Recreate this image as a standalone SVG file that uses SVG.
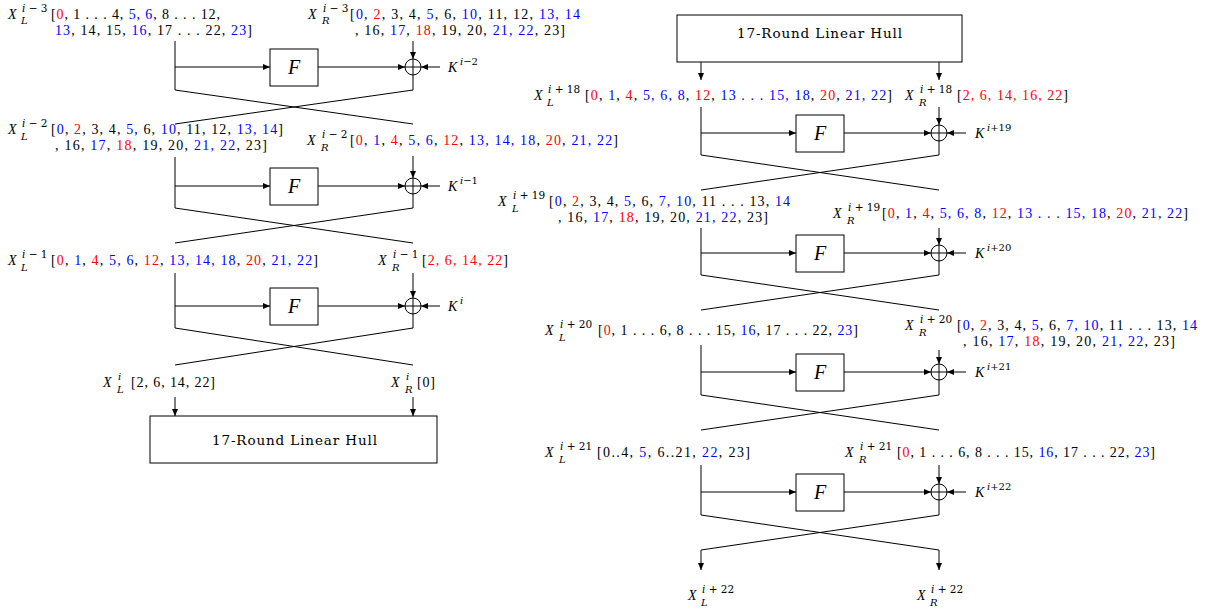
<svg xmlns="http://www.w3.org/2000/svg" width="1210" height="611" viewBox="0 0 1210 611">
<style>
.t{font-family:"Liberation Serif","Times New Roman",serif;font-size:14px;fill:#000}
.it{font-style:italic}
.s{font-family:"DejaVu Serif",serif;font-size:10px}
.u{font-family:"DejaVu Serif",serif;font-size:10.5px;white-space:pre}
.r{fill:#ff0000}
.b{fill:#0000ff}
.ln{stroke:#000;stroke-width:1;fill:none}
.ar{marker-end:url(#ah)}
.box{fill:#fff;stroke:#000;stroke-width:1}
.fx{font-family:"Liberation Serif","Times New Roman",serif;font-size:20px;font-style:italic;text-anchor:middle}
.hb{font-family:"DejaVu Serif",serif;font-size:13.5px}
</style>
<defs>
<marker id="ah" markerWidth="8" markerHeight="6" refX="7" refY="3" orient="auto" markerUnits="userSpaceOnUse">
<path d="M0,0 L7,3 L0,6 z" fill="#000"/>
</marker>
<g id="xor"><circle cx="0" cy="0" r="8" fill="#fff" stroke="#000"/><path d="M-8,0 H8 M0,-8 V8" stroke="#000"/></g>
</defs>

<g id="connectors">
<path class="ln" d="M175,41 V90 L413,124"/>
<path class="ln" d="M413,75 V90 L175,124"/>
<path class="ln ar" d="M175,67 H270"/>
<path class="ln ar" d="M318,67 H405"/>
<path class="ln ar" d="M440,67 H421"/>
<path class="ln ar" d="M413,41 V59"/>

<path class="ln" d="M175,157 V208 L413,243"/>
<path class="ln" d="M413,194 V208 L175,243"/>
<path class="ln ar" d="M175,186 H270"/>
<path class="ln ar" d="M318,186 H405"/>
<path class="ln ar" d="M440,186 H421"/>
<path class="ln ar" d="M413,156 V178"/>

<path class="ln" d="M175,273 V328 L413,365"/>
<path class="ln" d="M413,314 V328 L175,365"/>
<path class="ln ar" d="M175,306 H270"/>
<path class="ln ar" d="M318,306 H405"/>
<path class="ln ar" d="M440,306 H421"/>
<path class="ln ar" d="M413,273 V298"/>

<path class="ln ar" d="M175,397 V416"/>
<path class="ln ar" d="M413,397 V416"/>

<path class="ln ar" d="M701,62 V80"/>
<path class="ln ar" d="M939,62 V80"/>

<path class="ln" d="M701,107 V155 L939,190"/>
<path class="ln" d="M939,141 V155 L701,190"/>
<path class="ln ar" d="M701,133 H796"/>
<path class="ln ar" d="M844,133 H931"/>
<path class="ln ar" d="M966,133 H947"/>
<path class="ln ar" d="M939,107 V125"/>

<path class="ln" d="M701,228 V275 L939,310"/>
<path class="ln" d="M939,261 V275 L701,310"/>
<path class="ln ar" d="M701,253 H796"/>
<path class="ln ar" d="M844,253 H931"/>
<path class="ln ar" d="M966,253 H947"/>
<path class="ln ar" d="M939,228 V245"/>

<path class="ln" d="M701,345 V395 L939,430"/>
<path class="ln" d="M939,380 V395 L701,430"/>
<path class="ln ar" d="M701,372 H796"/>
<path class="ln ar" d="M844,372 H931"/>
<path class="ln ar" d="M966,372 H947"/>
<path class="ln ar" d="M939,350 V364"/>

<path class="ln ar" d="M701,465 V515 L939,550 V570"/>
<path class="ln ar" d="M939,500 V515 L701,550 V570"/>
<path class="ln ar" d="M701,492 H796"/>
<path class="ln ar" d="M844,492 H931"/>
<path class="ln ar" d="M966,492 H947"/>
<path class="ln ar" d="M939,465 V484"/>
</g>

<g id="F1"><rect class="box" x="270" y="49" width="48" height="37"/><text class="fx" x="294" y="74">F</text></g>
<g id="F2"><rect class="box" x="270" y="168" width="48" height="37"/><text class="fx" x="294" y="193">F</text></g>
<g id="F3"><rect class="box" x="270" y="288" width="48" height="37"/><text class="fx" x="294" y="313">F</text></g>
<g id="F4"><rect class="box" x="796" y="115" width="48" height="37"/><text class="fx" x="820" y="140">F</text></g>
<g id="F5"><rect class="box" x="796" y="235" width="48" height="37"/><text class="fx" x="820" y="260">F</text></g>
<g id="F6"><rect class="box" x="796" y="354" width="48" height="37"/><text class="fx" x="820" y="379">F</text></g>
<g id="F7"><rect class="box" x="796" y="474" width="48" height="37"/><text class="fx" x="820" y="499">F</text></g>

<g id="X1"><use href="#xor" x="413" y="67"/></g>
<g id="X2"><use href="#xor" x="413" y="186"/></g>
<g id="X3"><use href="#xor" x="413" y="306"/></g>
<g id="X4"><use href="#xor" x="939" y="133"/></g>
<g id="X5"><use href="#xor" x="939" y="253"/></g>
<g id="X6"><use href="#xor" x="939" y="372"/></g>
<g id="X7"><use href="#xor" x="939" y="492"/></g>

<g id="hull1"><rect class="box" x="150" y="416" width="287" height="47"/><text class="hb" x="212" y="445" textLength="165" lengthAdjust="spacing">17-Round Linear Hull</text></g>
<g id="hull2"><rect class="box" x="677" y="15" width="285" height="47"/><text class="hb" x="737" y="38" textLength="165" lengthAdjust="spacing">17-Round Linear Hull</text></g>

<g id="K1"><text class="t it" x="448" y="72">K</text><text class="s" x="460" y="65"><tspan class="it">i</tspan>−2</text></g>
<g id="K2"><text class="t it" x="448" y="191">K</text><text class="s" x="460" y="184"><tspan class="it">i</tspan>−1</text></g>
<g id="K3"><text class="t it" x="448" y="311">K</text><text class="s it" x="460" y="304">i</text></g>
<g id="K4"><text class="t it" x="975" y="138">K</text><text class="s" x="987" y="131"><tspan class="it">i</tspan>+19</text></g>
<g id="K5"><text class="t it" x="975" y="258">K</text><text class="s" x="987" y="251"><tspan class="it">i</tspan>+20</text></g>
<g id="K6"><text class="t it" x="975" y="377">K</text><text class="s" x="987" y="370"><tspan class="it">i</tspan>+21</text></g>
<g id="K7"><text class="t it" x="975" y="497">K</text><text class="s" x="987" y="490"><tspan class="it">i</tspan>+22</text></g>

<g id="LA">
<text class="t it" x="8" y="19">X</text>
<text class="u" x="22" y="12"><tspan class="it">i</tspan> − 3</text>
<text class="s it" x="21" y="24">L</text>
<text class="t" x="51" y="19" textLength="169" lengthAdjust="spacing">[<tspan class="r">0</tspan>, 1 . . . 4, <tspan class="b">5, 6</tspan>, 8 . . . 12,</text>
<text class="t" x="55" y="35" textLength="197" lengthAdjust="spacing"><tspan class="b">13</tspan>, 14, 15, <tspan class="b">16</tspan>, 17 . . . 22, <tspan class="b">23</tspan>]</text>
</g>
<g id="LB">
<text class="t it" x="308" y="19">X</text>
<text class="u" x="323" y="12"><tspan class="it">i</tspan> − 3</text>
<text class="s it" x="322" y="24">R</text>
<text class="t" x="350" y="19" textLength="230" lengthAdjust="spacing">[<tspan class="b">0</tspan>, <tspan class="r">2</tspan>, 3, 4, <tspan class="b">5</tspan>, 6, <tspan class="b">10</tspan>, 11, 12, <tspan class="b">13, 14</tspan></text>
<text class="t" x="355" y="35" textLength="210" lengthAdjust="spacing">, 16, <tspan class="b">17</tspan>, <tspan class="r">18</tspan>, 19, 20, <tspan class="b">21, 22</tspan>, 23]</text>
</g>
<g id="LC">
<text class="t it" x="8" y="134">X</text>
<text class="u" x="22" y="127"><tspan class="it">i</tspan> − 2</text>
<text class="s it" x="21" y="140">L</text>
<text class="t" x="51" y="134" textLength="232" lengthAdjust="spacing">[<tspan class="b">0</tspan>, <tspan class="r">2</tspan>, 3, 4, <tspan class="b">5</tspan>, 6, <tspan class="b">10</tspan>, 11, 12, <tspan class="b">13, 14</tspan>]</text>
<text class="t" x="55" y="150" textLength="212" lengthAdjust="spacing">, 16, <tspan class="b">17</tspan>, <tspan class="r">18</tspan>, 19, 20, <tspan class="b">21, 22</tspan>, 23]</text>
</g>
<g id="LD">
<text class="t it" x="307" y="145">X</text>
<text class="u" x="322" y="138"><tspan class="it">i</tspan> − 2</text>
<text class="s it" x="321" y="151">R</text>
<text class="t" x="350" y="145" textLength="268" lengthAdjust="spacing">[<tspan class="r">0</tspan>, <tspan class="b">1</tspan>, <tspan class="r">4</tspan>, <tspan class="b">5, 6</tspan>, <tspan class="r">12</tspan>, <tspan class="b">13, 14, 18</tspan>, <tspan class="r">20</tspan>, <tspan class="b">21, 22</tspan>]</text>
</g>
<g id="LE">
<text class="t it" x="8" y="265">X</text>
<text class="u" x="22" y="258"><tspan class="it">i</tspan> − 1</text>
<text class="s it" x="21" y="271">L</text>
<text class="t" x="51" y="265" textLength="267" lengthAdjust="spacing">[<tspan class="r">0</tspan>, <tspan class="b">1</tspan>, <tspan class="r">4</tspan>, <tspan class="b">5, 6</tspan>, <tspan class="r">12</tspan>, <tspan class="b">13, 14, 18</tspan>, <tspan class="r">20</tspan>, <tspan class="b">21, 22</tspan>]</text>
</g>
<g id="LF">
<text class="t it" x="378" y="265">X</text>
<text class="u" x="393" y="258"><tspan class="it">i</tspan> − 1</text>
<text class="s it" x="392" y="271">R</text>
<text class="t" x="422" y="265" textLength="86" lengthAdjust="spacing">[<tspan class="r">2, 6, 14, 22</tspan>]</text>
</g>
<g id="LG">
<text class="t it" x="103" y="387">X</text>
<text class="s it" x="118" y="380">i</text>
<text class="s it" x="117" y="393">L</text>
<text class="t" x="131" y="387" textLength="84" lengthAdjust="spacing">[2, 6, 14, 22]</text>
</g>
<g id="LH">
<text class="t it" x="391" y="387">X</text>
<text class="s it" x="406" y="380">i</text>
<text class="s it" x="405" y="393">R</text>
<text class="t" x="417" y="387" textLength="18" lengthAdjust="spacing">[0]</text>
</g>

<g id="RI">
<text class="t it" x="534" y="100">X</text>
<text class="u" x="548" y="93"><tspan class="it">i</tspan> + 18</text>
<text class="s it" x="547" y="106">L</text>
<text class="t" x="585" y="100" textLength="307" lengthAdjust="spacing">[<tspan class="r">0</tspan>, <tspan class="b">1</tspan>, <tspan class="r">4</tspan>, <tspan class="b">5, 6, 8</tspan>, <tspan class="r">12</tspan>, <tspan class="b">13 . . . 15, 18</tspan>, <tspan class="r">20</tspan>, <tspan class="b">21, 22</tspan>]</text>
</g>
<g id="RJ">
<text class="t it" x="905" y="100">X</text>
<text class="u" x="920" y="93"><tspan class="it">i</tspan> + 18</text>
<text class="s it" x="919" y="106">R</text>
<text class="t" x="957" y="100" textLength="111" lengthAdjust="spacing">[<tspan class="r">2, 6, 14, 16, 22</tspan>]</text>
</g>
<g id="RK">
<text class="t it" x="498" y="206">X</text>
<text class="u" x="513" y="199"><tspan class="it">i</tspan> + 19</text>
<text class="s it" x="512" y="212">L</text>
<text class="t" x="549" y="206" textLength="241" lengthAdjust="spacing">[<tspan class="b">0</tspan>, <tspan class="r">2</tspan>, 3, 4, <tspan class="b">5</tspan>, 6, <tspan class="b">7, 10</tspan>, 11 . . . 13, <tspan class="b">14</tspan></text>
<text class="t" x="558" y="222" textLength="210" lengthAdjust="spacing">, 16, <tspan class="b">17</tspan>, <tspan class="r">18</tspan>, 19, 20, <tspan class="b">21, 22</tspan>, 23]</text>
</g>
<g id="RL">
<text class="t it" x="833" y="218">X</text>
<text class="u" x="848" y="211"><tspan class="it">i</tspan> + 19</text>
<text class="s it" x="847" y="224">R</text>
<text class="t" x="882" y="218" textLength="306" lengthAdjust="spacing">[<tspan class="r">0</tspan>, <tspan class="b">1</tspan>, <tspan class="r">4</tspan>, <tspan class="b">5, 6, 8</tspan>, <tspan class="r">12</tspan>, <tspan class="b">13 . . . 15, 18</tspan>, <tspan class="r">20</tspan>, <tspan class="b">21, 22</tspan>]</text>
</g>
<g id="RM">
<text class="t it" x="545" y="335">X</text>
<text class="u" x="560" y="328"><tspan class="it">i</tspan> + 20</text>
<text class="s it" x="559" y="341">L</text>
<text class="t" x="598" y="335" textLength="260" lengthAdjust="spacing">[<tspan class="r">0</tspan>, 1 . . . 6, 8 . . . 15, <tspan class="b">16</tspan>, 17 . . . 22, <tspan class="b">23</tspan>]</text>
</g>
<g id="RN">
<text class="t it" x="905" y="330">X</text>
<text class="u" x="920" y="323"><tspan class="it">i</tspan> + 20</text>
<text class="s it" x="919" y="336">R</text>
<text class="t" x="957" y="330" textLength="240" lengthAdjust="spacing">[<tspan class="b">0</tspan>, <tspan class="r">2</tspan>, 3, 4, <tspan class="b">5</tspan>, 6, <tspan class="b">7, 10</tspan>, 11 . . . 13, <tspan class="b">14</tspan></text>
<text class="t" x="963" y="346" textLength="212" lengthAdjust="spacing">, 16, <tspan class="b">17</tspan>, <tspan class="r">18</tspan>, 19, 20, <tspan class="b">21, 22</tspan>, 23]</text>
</g>
<g id="RO">
<text class="t it" x="545" y="457">X</text>
<text class="u" x="560" y="450"><tspan class="it">i</tspan> + 21</text>
<text class="s it" x="559" y="463">L</text>
<text class="t" x="597" y="457" textLength="153" lengthAdjust="spacing">[0..4, <tspan class="b">5</tspan>, 6..21, <tspan class="b">22</tspan>, 23]</text>
</g>
<g id="RP">
<text class="t it" x="845" y="457">X</text>
<text class="u" x="860" y="450"><tspan class="it">i</tspan> + 21</text>
<text class="s it" x="859" y="463">R</text>
<text class="t" x="897" y="457" textLength="258" lengthAdjust="spacing">[<tspan class="r">0</tspan>, 1 . . . 6, 8 . . . 15, <tspan class="b">16</tspan>, 17 . . . 22, <tspan class="b">23</tspan>]</text>
</g>
<g id="RQ">
<text class="t it" x="688" y="600">X</text>
<text class="u" x="702" y="593"><tspan class="it">i</tspan> + 22</text>
<text class="s it" x="701" y="606">L</text>
</g>
<g id="RR">
<text class="t it" x="917" y="600">X</text>
<text class="u" x="931" y="593"><tspan class="it">i</tspan> + 22</text>
<text class="s it" x="930" y="606">R</text>
</g>
</svg>
